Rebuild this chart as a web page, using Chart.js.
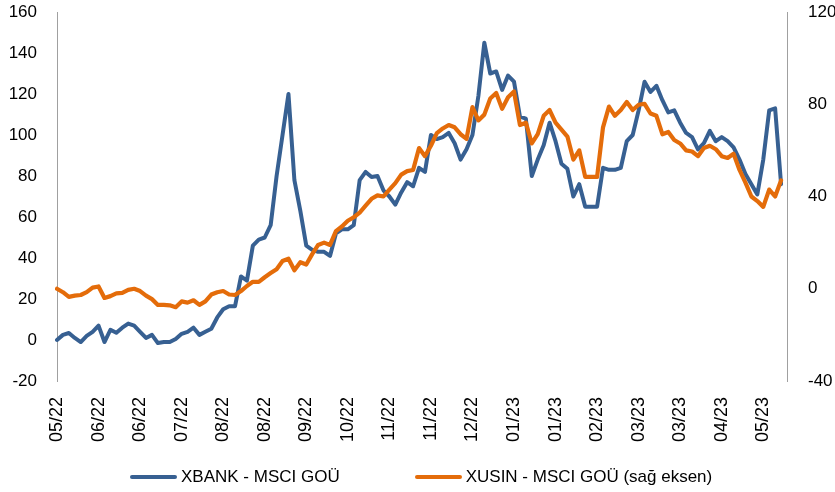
<!DOCTYPE html>
<html>
<head>
<meta charset="utf-8">
<script src="https://cdn.jsdelivr.net/npm/chart.js@4.4.1/dist/chart.umd.min.js"></script>
<style>
  html, body { margin: 0; padding: 0; background: #fff; }
  #wrap { position: relative; width: 835px; height: 492px; }
  #legend {
    position: absolute; left: 130px; top: 466px; height: 22px;
    display: flex; align-items: center;
    font: 17px "Liberation Sans", Arial, sans-serif; color: #000;
  }
  .item { display: flex; align-items: center; margin-right: 75px; white-space: nowrap; }
  .swatch { width: 47px; height: 4px; border-radius: 2px; margin-right: 4px; }
</style>
</head>
<body>
<div id="wrap">
  <canvas id="chart" width="835" height="492"></canvas>
  <div id="legend"></div>
</div>
<script>
// tick labels, one every 7 points
const tickLabels = ["05/22", "06/22", "06/22", "07/22", "08/22", "08/22", "09/22", "10/22", "11/22",
  "11/22", "12/22", "01/23", "01/23", "02/23", "03/23", "03/23", "04/23", "05/23"];
const pointsPerTick = 7;
const totalSlots = 124;

const seriesNames = ["XBANK - MSCI GOÜ", "XUSIN - MSCI GOÜ (sağ eksen)"];
const seriesColors = ["#376092", "#e46c0a"];

// left axis
const xbank = [
  0, 2.5, 3.4, 1, -1, 2, 4, 7, -1, 5,
  3.5, 6, 8, 7, 4, 1, 2.5, -1.5, -1, -1,
  0.5, 3, 4, 6, 2.5, 4, 5.5, 11, 15, 16.5,
  16.5, 31, 29, 46, 49, 50, 56, 80, 100, 120,
  78, 63, 46, 44, 43, 43, 41, 52, 54, 54,
  56, 78, 82, 79.5, 80, 73, 70, 66, 72, 77,
  75, 84, 82, 100, 98, 99, 101, 96, 88, 93,
  100, 119, 145, 130, 131, 122, 129, 126, 109, 108,
  80, 88, 95, 106, 97, 86, 83.5, 70, 76, 65,
  65, 65, 84, 83, 83, 84, 97, 100, 112, 126,
  121, 124, 117, 111, 112, 106, 101, 99, 93, 96,
  102, 97, 99, 97, 94, 88, 81, 76, 71, 88,
  112, 113, 76
];

// right axis
const xusin = [
  0, -1.5, -3.5, -3, -2.7, -1.5, 0.5, 1, -4, -3.2,
  -2, -1.8, -0.5, 0, -1, -3, -4.5, -7, -7, -7.2,
  -8, -5.5, -6, -5, -7, -5.5, -2.5, -1.5, -1, -2.5,
  -2.7, -1, 1.2, 3, 3, 5, 6.8, 8.5, 12, 13,
  8, 11.5, 10.5, 15, 19, 20, 19, 25, 27, 29.5,
  31, 33, 36, 39, 40.5, 40, 43, 45.8, 49.5, 51,
  51.5, 61, 57.5, 62, 67.5, 69.5, 71, 70, 67, 65,
  78.8, 73, 75.5, 82.5, 84.9, 78, 83, 85.5, 71, 72,
  63, 67, 75, 77.5, 72, 69, 66, 56, 60, 48.5,
  48.5, 48.5, 70, 79, 75, 77.5, 81, 77.5, 79.8, 80.2,
  76, 75, 67, 68, 64.5, 63, 60, 59.5, 57.5, 61,
  62, 60.5, 57.5, 56.7, 58.5, 51.5, 46, 40, 38, 35.5,
  43, 40, 47
];

const labels = [];
for (let i = 0; i < totalSlots; i++) {
  labels.push(i % pointsPerTick === 0 ? (tickLabels[i / pointsPerTick] || "") : "");
}

const font = { family: "'Liberation Sans', Arial, sans-serif", size: 17 };

// fixed side widths; drop the extra top padding that ticks.padding adds
const fitY = (w) => (scale) => {
  scale.width = w;
  scale.paddingTop = 0;
  scale.paddingBottom = 0;
};

new Chart(document.getElementById("chart").getContext("2d"), {
  type: "line",
  data: {
    labels: labels,
    datasets: [
      {
        label: seriesNames[0],
        data: xbank,
        yAxisID: "y",
        borderColor: seriesColors[0],
        backgroundColor: seriesColors[0],
        borderWidth: 4,
        borderJoinStyle: "round",
        borderCapStyle: "round",
        pointRadius: 0,
        tension: 0,
        order: 1,
      },
      {
        label: seriesNames[1],
        data: xusin,
        yAxisID: "y1",
        borderColor: seriesColors[1],
        backgroundColor: seriesColors[1],
        borderWidth: 4.2,
        borderJoinStyle: "round",
        borderCapStyle: "round",
        pointRadius: 0,
        tension: 0,
        order: 0,
      },
    ],
  },
  options: {
    responsive: false,
    animation: false,
    layout: { padding: { top: 12, left: 0, right: 0, bottom: 0 } },
    plugins: {
      legend: { display: false },
      tooltip: { enabled: false },
    },
    scales: {
      x: {
        offset: false,
        grid: { display: false, drawTicks: false, tickLength: 0 },
        border: { display: false },
        ticks: {
          autoSkip: false,
          minRotation: 90,
          maxRotation: 90,
          padding: 16,
          color: "#000",
          font: { family: font.family, size: 18 },
        },
        afterFit: (scale) => { scale.height = 111; },
      },
      y: {
        position: "left",
        min: -20,
        max: 160,
        grid: { display: false, drawTicks: false, tickLength: 0 },
        border: { display: true, color: "#a0a0a0", width: 1 },
        ticks: { stepSize: 20, padding: 20, color: "#000", font: font },
        afterFit: fitY(57),
      },
      y1: {
        position: "right",
        min: -40,
        max: 120,
        grid: { display: false, drawTicks: false, tickLength: 0 },
        border: { display: true, color: "#a0a0a0", width: 1 },
        ticks: { stepSize: 40, padding: 21, color: "#000", font: font },
        afterFit: fitY(48),
      },
    },
  },
});

// legend
const legend = document.getElementById("legend");
seriesNames.forEach((name, i) => {
  const item = document.createElement("div");
  item.className = "item";
  const sw = document.createElement("span");
  sw.className = "swatch";
  sw.style.background = seriesColors[i];
  const txt = document.createElement("span");
  txt.textContent = name;
  item.appendChild(sw);
  item.appendChild(txt);
  legend.appendChild(item);
});
</script>
</body>
</html>
